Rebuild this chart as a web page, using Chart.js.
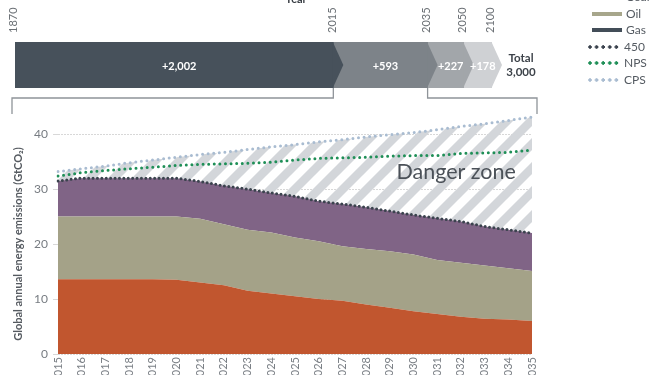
<!DOCTYPE html>
<html>
<head>
<meta charset="utf-8">
<script src="https://cdn.jsdelivr.net/npm/chart.js@4/dist/chart.umd.min.js"></script>
<style>
  html, body { margin: 0; padding: 0; background: #fff; width: 662px; height: 375px; overflow: hidden; position: relative; font-family: Lato, "Open Sans", sans-serif; }
  #topChart { position: absolute; left: 0; top: -10px; }
  #botChart { position: absolute; left: 0; top: 100px; }
  .lg { position: absolute; left: 588px; height: 16px; font: 12px Lato, sans-serif; color: #555b62; }
  .lg .sw { position: absolute; left: 4px; width: 30px; height: 4px; top: 6px; }
  .lg .dots { position: absolute; left: 0; width: 33px; height: 4px; top: 6px; background-size: 6.6px 4px; background-repeat: repeat-x; }
  .lg .tx { position: absolute; left: 38px; top: 0; line-height: 16px; white-space: nowrap; }
  .lg .tx2 { left: 36px; }
</style>
</head>
<body>
<canvas id="topChart" width="662" height="130"></canvas>
<canvas id="botChart" width="662" height="294"></canvas>
<div id="legend"></div>
<script>
// ---------- DATA ----------
// Top: cumulative CO2 budget bar (GtCO2)
const periodYears = ['1870', '2015', '2035', '2050', '2100'];
const periodAdds = [2002, 593, 227, 178];
const periodColors = ['#47515b', '#7d8389', '#a2a6aa', '#cfd1d4'];

// Bottom: annual emissions (GtCO2)
const years = ['2015','2016','2017','2018','2019','2020','2021','2022','2023','2024','2025',
               '2026','2027','2028','2029','2030','2031','2032','2033','2034','2035'];
const coal = [13.6,13.6,13.6,13.6,13.6,13.5,13.0,12.5,11.5,11.0,10.5,10.0,9.7,9.0,8.4,7.8,7.3,6.8,6.4,6.3,6.0];
const oil  = [11.4,11.4,11.4,11.4,11.4,11.5,11.6,11.1,11.1,11.1,10.7,10.5,9.9,10.1,10.3,10.3,9.8,9.8,9.7,9.3,9.1];
const gas  = [6.5,7.0,7.0,7.0,7.0,7.0,6.8,7.0,7.4,7.2,7.5,7.3,7.7,7.6,7.3,7.2,7.6,7.5,7.1,7.0,6.9];
const s450 = [31.5,32.0,32.0,32.0,32.0,32.0,31.4,30.6,30.0,29.3,28.7,27.8,27.3,26.7,26.0,25.3,24.7,24.1,23.2,22.6,22.0];
const nps  = [32.4,33.0,33.4,33.7,34.0,34.3,34.5,34.6,34.7,34.9,35.3,35.6,35.7,35.8,36.0,36.1,36.1,36.5,36.6,36.7,37.1];
const cps  = [33.2,33.7,34.2,34.8,35.3,35.8,36.3,36.7,37.2,37.7,38.1,38.6,39.0,39.5,39.9,40.3,40.8,41.4,41.9,42.5,43.1];
const yTicks = [0, 10, 20, 30, 40];

const FONT = 'Lato, "Open Sans", sans-serif';

// ---------- TOP CHART ----------
const cumul = [0];
periodAdds.forEach(v => cumul.push(cumul[cumul.length - 1] + v));
const TIP = 10;
const OFF = 10; // canvas offset from page top

const topPlugin = {
  id: 'topDecor',
  afterDatasetsDraw(chart) {
    const ctx = chart.ctx;
    const xs = chart.scales.x;
    ctx.save();
    chart.data.datasets.forEach((ds, i) => {
      const el = chart.getDatasetMeta(i).data[0];
      const h = el.height;
      ctx.fillStyle = ds.backgroundColor;
      ctx.beginPath();
      ctx.moveTo(el.x - 0.5, el.y - h / 2);
      ctx.lineTo(el.x + TIP, el.y);
      ctx.lineTo(el.x - 0.5, el.y + h / 2);
      ctx.closePath();
      ctx.fill();
    });
    ctx.font = 'bold 11px ' + FONT;
    ctx.fillStyle = '#ffffff';
    ctx.textAlign = 'center';
    ctx.textBaseline = 'middle';
    chart.data.datasets.forEach((ds, i) => {
      const el = chart.getDatasetMeta(i).data[0];
      const cx = (el.base + el.x) / 2 + TIP / 2;
      ctx.fillText('+' + ds.data[0].toLocaleString('en-US'), cx, el.y + 1);
    });
    const total = cumul[cumul.length - 1];
    const tx = xs.getPixelForValue(total) + 29;
    const el0 = chart.getDatasetMeta(0).data[0];
    ctx.fillStyle = '#3d434a';
    ctx.font = 'bold 11.5px ' + FONT;
    ctx.fillText('Total', tx, el0.y - 7);
    ctx.fillText(total.toLocaleString('en-US'), tx, el0.y + 7);
    ctx.fillStyle = '#3a3f45';
    ctx.font = 'bold 11px ' + FONT;
    ctx.textBaseline = 'alphabetic';
    ctx.fillText('Year', 296, OFF + 3);
    const bottom = el0.y + el0.height / 2;
    const x1 = xs.getPixelForValue(cumul[1]);
    const x2 = xs.getPixelForValue(cumul[2]);
    ctx.strokeStyle = '#8f9499';
    ctx.lineWidth = 1.3;
    ctx.beginPath();
    ctx.moveTo(x1, bottom); ctx.lineTo(x1, OFF + 98); ctx.lineTo(12, OFF + 98); ctx.lineTo(12, OFF + 114);
    ctx.moveTo(x2, bottom); ctx.lineTo(x2, OFF + 98); ctx.lineTo(537, OFF + 98); ctx.lineTo(537, OFF + 114);
    ctx.stroke();
    ctx.restore();
  }
};

new Chart(document.getElementById('topChart'), {
  type: 'bar',
  data: {
    labels: ['Budget'],
    datasets: periodAdds.map((v, i) => ({
      label: periodYears[i] + '–' + periodYears[i + 1],
      data: [v],
      backgroundColor: periodColors[i],
      borderWidth: 0,
      barPercentage: 1,
      categoryPercentage: 1
    }))
  },
  options: {
    indexAxis: 'y',
    responsive: false,
    animation: false,
    devicePixelRatio: 1,
    layout: { padding: { left: 15, right: 170, top: 0, bottom: 32 } },
    plugins: { legend: { display: false }, tooltip: { enabled: false } },
    scales: {
      x: {
        type: 'linear', position: 'top', stacked: true, min: 0, max: cumul[cumul.length - 1],
        grid: { display: false, drawTicks: false }, border: { display: false },
        afterBuildTicks(scale) { scale.ticks = cumul.map(v => ({ value: v })); },
        afterFit(scale) { scale.height = 52; scale.paddingLeft = 0; scale.paddingRight = 0; },
        ticks: {
          autoSkip: false, minRotation: 90, maxRotation: 90, padding: 9, labelOffset: 12,
          color: '#6b7075', font: { size: 11, family: FONT },
          callback: (v) => periodYears[cumul.indexOf(v)] ?? ''
        }
      },
      y: { stacked: true, display: false }
    }
  },
  plugins: [topPlugin]
});

// ---------- BOTTOM CHART ----------
function stripePattern() {
  const s = 24;
  const c = document.createElement('canvas');
  c.width = s; c.height = s;
  const g = c.getContext('2d');
  g.strokeStyle = '#d3d6da';
  g.lineWidth = 8.5;
  g.beginPath();
  g.moveTo(-s, s); g.lineTo(s, -s);
  g.moveTo(0, s); g.lineTo(s, 0);
  g.moveTo(0, 2 * s); g.lineTo(2 * s, 0);
  g.stroke();
  return g.createPattern(c, 'repeat');
}

const dangerLabel = { text: 'Danger zone', xIndex: 16.8, yValue: 33.1 };
const yTitle = 'Global annual energy emissions (GtCO\u2082)';

const botPlugin = {
  id: 'botDecor',
  afterDatasetsDraw(chart) {
    const ctx = chart.ctx;
    const xs = chart.scales.x, ys = chart.scales.y;
    ctx.save();
    ctx.font = '21.5px ' + FONT;
    ctx.fillStyle = '#4b5158';
    ctx.textAlign = 'center';
    ctx.textBaseline = 'middle';
    ctx.fillText(dangerLabel.text, xs.getPixelForValue(dangerLabel.xIndex), ys.getPixelForValue(dangerLabel.yValue));
    ctx.restore();
  },
  afterDraw(chart) {
    const ctx = chart.ctx;
    ctx.save();
    ctx.translate(18, 144);
    ctx.rotate(-Math.PI / 2);
    ctx.font = 'bold 11px ' + FONT;
    ctx.fillStyle = '#555a60';
    ctx.textAlign = 'center';
    ctx.textBaseline = 'middle';
    ctx.fillText(yTitle, 0, 0);
    ctx.restore();
  }
};

const lineBase = { pointRadius: 0, pointHoverRadius: 0, tension: 0, borderWidth: 3, borderCapStyle: 'round', fill: false };

new Chart(document.getElementById('botChart'), {
  type: 'line',
  data: {
    labels: years,
    datasets: [
      { label: 'Coal', data: coal, stack: 'fuel', order: 2, backgroundColor: '#c1562f', borderWidth: 0, pointRadius: 0, fill: 'origin', tension: 0 },
      { label: 'Oil', data: oil, stack: 'fuel', order: 2, backgroundColor: '#a4a288', borderWidth: 0, pointRadius: 0, fill: '-1', tension: 0 },
      { label: 'Gas', data: gas, stack: 'fuel', order: 2, backgroundColor: '#806486', borderWidth: 0, pointRadius: 0, fill: '-1', tension: 0 },
      { ...lineBase, label: '450', data: s450, stack: 's450', order: 1, borderColor: '#3b434e', borderDash: [0, 4.4] },
      { ...lineBase, label: 'NPS', data: nps, stack: 'snps', order: 0, borderColor: '#1f8f57', borderDash: [0, 5.6] },
      { ...lineBase, label: 'CPS', data: cps, stack: 'scps', order: 3, borderColor: '#a9bcd1', borderDash: [0, 5.6], fill: 3, backgroundColor: stripePattern() }
    ]
  },
  options: {
    responsive: false,
    animation: false,
    devicePixelRatio: 1,
    layout: { padding: { left: 0, right: 130, top: 8.7, bottom: 0 } },
    plugins: { legend: { display: false }, tooltip: { enabled: false }, filler: { propagate: false } },
    scales: {
      x: {
        offset: false,
        grid: { display: false, drawTicks: false }, border: { display: false },
        afterFit(scale) { scale.height = 40; },
        ticks: { autoSkip: false, minRotation: 90, maxRotation: 90, padding: 3, color: '#7a7f85', font: { size: 11, family: FONT } }
      },
      y: {
        stacked: true, min: 0, max: 44,
        afterBuildTicks(scale) { scale.ticks = yTicks.map(v => ({ value: v })); },
        afterFit(scale) { scale.width = 58; },
        grid: { color: '#d8d8d8', lineWidth: 1, tickLength: 5, drawTicks: true, tickColor: '#d8d8d8' },
        border: { display: false, dash: [2, 1] },
        ticks: { padding: 5, color: '#777c82', font: { size: 12, family: FONT } }
      }
    }
  },
  plugins: [botPlugin]
});

// ---------- LEGEND (HTML) ----------
const legendItems = [
  { label: 'Coal', type: 'box', color: '#d9825f' },
  { label: 'Oil', type: 'box', color: '#a7a68b' },
  { label: 'Gas', type: 'box', color: '#434d58' },
  { label: '450', type: 'dots', color: '#3b434e' },
  { label: 'NPS', type: 'dots', color: '#1f8f57' },
  { label: 'CPS', type: 'dots', color: '#a9bcd1' }
];
const lg = document.getElementById('legend');
legendItems.forEach((it, i) => {
  const d = document.createElement('div');
  d.className = 'lg';
  d.style.top = (-11 + i * 16.6) + 'px';
  if (it.type === 'box') {
    d.innerHTML = '<div class="sw" style="background:' + it.color + '"></div><div class="tx">' + it.label + '</div>';
  } else {
    d.innerHTML = '<div class="dots" style="background-image:radial-gradient(circle at 2px 2px,' + it.color + ' 1.5px, transparent 1.9px)"></div><div class="tx tx2">' + it.label + '</div>';
  }
  lg.appendChild(d);
});
</script>
</body>
</html>
